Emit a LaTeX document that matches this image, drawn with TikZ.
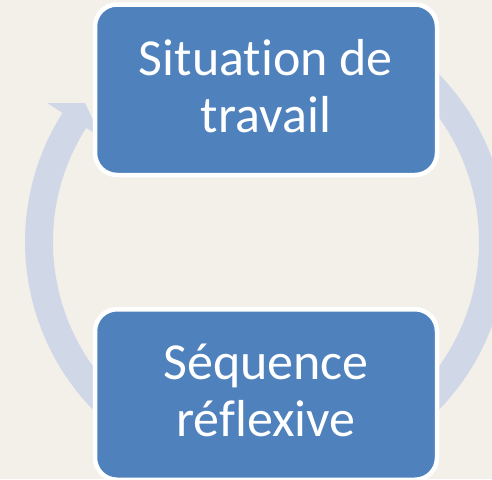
\documentclass[tikz,border=0pt]{standalone}
\usepackage{fontspec}
\setmainfont[Ligatures=CommonOff]{Carlito}
\definecolor{bgc}{HTML}{F3F0EA}
\definecolor{ringc}{HTML}{D0D8E8}
\definecolor{boxc}{HTML}{4F81BD}
\tikzset{
  cyclebox/.style={draw=white, line width=4.5pt, fill=boxc, rounded corners=22pt,
    minimum width=342pt, minimum height=170.5pt, inner sep=0pt},
  boxtext/.style={inner sep=0pt, text=white, align=center,
    font=\fontsize{52pt}{57pt}\selectfont},
  ringarrow/.style={fill=ringc, draw=none}
}
\begin{document}
\begin{tikzpicture}
\fill[bgc] (0pt,0pt) rectangle (492pt,-479pt);
\useasboundingbox (0pt,0pt) rectangle (492pt,-479pt);
\coordinate (c) at (266pt,-242pt);
\begin{scope}[shift={(c)}]
\fill[ringarrow] (50:241pt) arc[start angle=50, end angle=-212.4, radius=241pt]
  -- (-212.4:259pt) -- (-217.5:228pt) -- (-212.4:195pt) -- (-212.4:213pt)
  arc[start angle=-212.4, end angle=50, radius=213pt] -- cycle;
\end{scope}
\node[cyclebox] (sit) at (266pt,-89.75pt) {};
\node[cyclebox] (seq) at (266pt,-394.5pt) {};
\node[boxtext] (sittext) at ([yshift=4pt]sit.center) {Situation de\\travail};
\node[boxtext] (seqtext) at ([yshift=4pt]seq.center) {Séquence\\réflexive};
\end{tikzpicture}
\end{document}
